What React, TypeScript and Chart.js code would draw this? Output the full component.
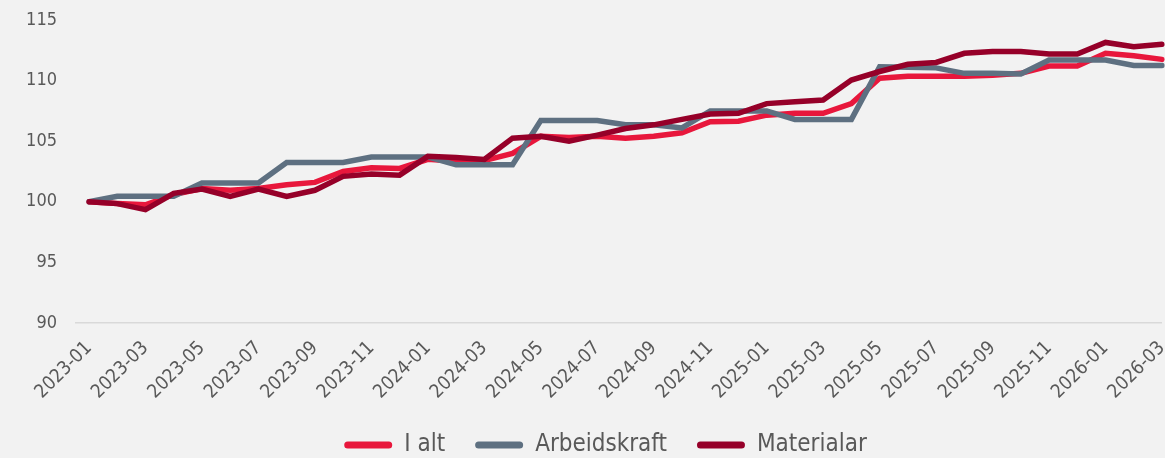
import { useEffect, useRef } from 'react';
import { Chart, registerables } from 'chart.js';

Chart.register(...registerables);

const categories = [
  '2023-01', '2023-02', '2023-03', '2023-04', '2023-05', '2023-06', '2023-07', '2023-08', '2023-09', '2023-10', '2023-11', '2023-12',
  '2024-01', '2024-02', '2024-03', '2024-04', '2024-05', '2024-06', '2024-07', '2024-08', '2024-09', '2024-10', '2024-11', '2024-12',
  '2025-01', '2025-02', '2025-03', '2025-04', '2025-05', '2025-06', '2025-07', '2025-08', '2025-09', '2025-10', '2025-11', '2025-12',
  '2026-01', '2026-02', '2026-03',
];

const iAlt = [
  100, 99.85, 99.75, 100.6, 101.1, 100.95, 101.1, 101.4, 101.6, 102.5, 102.8, 102.75,
  103.5, 103.35, 103.4, 104.0, 105.4, 105.3, 105.4, 105.25, 105.4, 105.7, 106.6, 106.65,
  107.15, 107.3, 107.3, 108.1, 110.2, 110.35, 110.35, 110.35, 110.45, 110.6, 111.2, 111.2,
  112.25, 112.05, 111.75,
];

const arbeidskraft = [
  100, 100.45, 100.45, 100.45, 101.55, 101.55, 101.55, 103.25, 103.25, 103.25, 103.7, 103.7,
  103.7, 103.05, 103.05, 103.05, 106.7, 106.7, 106.7, 106.35, 106.35, 106.1, 107.5, 107.5,
  107.5, 106.8, 106.8, 106.8, 111.15, 111.1, 111.05, 110.6, 110.6, 110.55, 111.7, 111.7,
  111.7, 111.25, 111.25,
];

const materialar = [
  100, 99.85, 99.35, 100.7, 101.05, 100.45, 101.05, 100.45, 100.95, 102.1, 102.3, 102.2,
  103.75, 103.65, 103.5, 105.25, 105.4, 105.0, 105.5, 106.05, 106.35, 106.8, 107.25, 107.3,
  108.1, 108.25, 108.4, 110.05, 110.75, 111.35, 111.5, 112.25, 112.4, 112.4, 112.2, 112.2,
  113.15, 112.8, 113.0,
];

const seriesNames = ['I alt', 'Arbeidskraft', 'Materialar'];
const seriesColors = ['#E8173C', '#5E7081', '#960029'];
const yTicks = [90, 95, 100, 105, 110, 115];

const FAMILY = '"DejaVu Sans", sans-serif';
const STRETCH = 'normal condensed';
const TEXT = '#595959';

const unclipY = {
  id: 'unclipY',
  afterLayout(chart: any) {
    if (chart.scales.y) chart.scales.y.left = 0;
  },
};

export default function App() {
  const ref = useRef<HTMLCanvasElement>(null);

  useEffect(() => {
    document.body.style.margin = '0';
    const values = [iAlt, arbeidskraft, materialar];
    const orders = [2, 1, 0];
    const chart = new Chart(ref.current!, {
      type: 'line',
      plugins: [unclipY],
      data: {
        labels: categories,
        datasets: seriesNames.map((name, i) => ({
          label: name,
          data: values[i],
          borderColor: seriesColors[i],
          backgroundColor: seriesColors[i],
          borderWidth: 5.5,
          pointRadius: 0,
          pointHoverRadius: 0,
          tension: 0,
          borderCapStyle: 'round' as const,
          borderJoinStyle: 'miter' as const,
          order: orders[i],
        })),
      },
      options: {
        animation: false,
        responsive: true,
        maintainAspectRatio: false,
        layout: { padding: { top: 20, right: 3, left: 49, bottom: -9 } },
        plugins: {
          tooltip: { enabled: false },
          legend: {
            position: 'bottom',
            labels: {
              boxWidth: 48,
              boxHeight: 7,
              useBorderRadius: true,
              borderRadius: 3.5,
              padding: 30,
              color: TEXT,
              font: { family: FAMILY, size: 24, weight: STRETCH as any },
              sort: (a: any, b: any) => a.datasetIndex - b.datasetIndex,
              generateLabels: (c: any) =>
                (Chart.defaults.plugins.legend.labels.generateLabels as any)(c).map((l: any) => ({
                  ...l,
                  lineWidth: 0,
                  strokeStyle: 'rgba(0,0,0,0)',
                })),
            },
          },
        },
        scales: {
          x: {
            offset: false,
            grid: { display: false },
            border: { display: false },
            ticks: {
              autoSkip: false,
              maxRotation: 45,
              minRotation: 45,
              padding: 6,
              color: TEXT,
              font: { family: FAMILY, size: 19, weight: STRETCH as any },
              callback: (_v: any, i: number) => (i % 2 === 0 ? categories[i] : ''),
            },
            afterFit: (s: any) => {
              s.height = 80;
              s.paddingRight = 0;
              s.paddingLeft = 0;
            },
          },
          y: {
            min: 90,
            max: 115,
            afterBuildTicks: (s: any) => {
              s.ticks = yTicks.map((v) => ({ value: v }));
            },
            border: { display: false },
            grid: {
              drawTicks: true,
              tickLength: 14,
              lineWidth: 1.5,
              color: (ctx: any) => (ctx.tick && ctx.tick.value === 90 ? '#D9D9D9' : 'rgba(0,0,0,0)'),
            },
            ticks: {
              padding: 18,
              color: TEXT,
              font: { family: FAMILY, size: 18, weight: STRETCH as any },
            },
            afterFit: (s: any) => {
              s.width = 40;
              s.paddingTop = 0;
              s.paddingBottom = 0;
            },
          },
        },
      },
    });
    return () => chart.destroy();
  }, []);

  return (
    <div style={{ position: 'absolute', left: 0, top: 0, width: 1165, height: 458, background: '#F2F2F2' }}>
      <canvas ref={ref} />
    </div>
  );
}
